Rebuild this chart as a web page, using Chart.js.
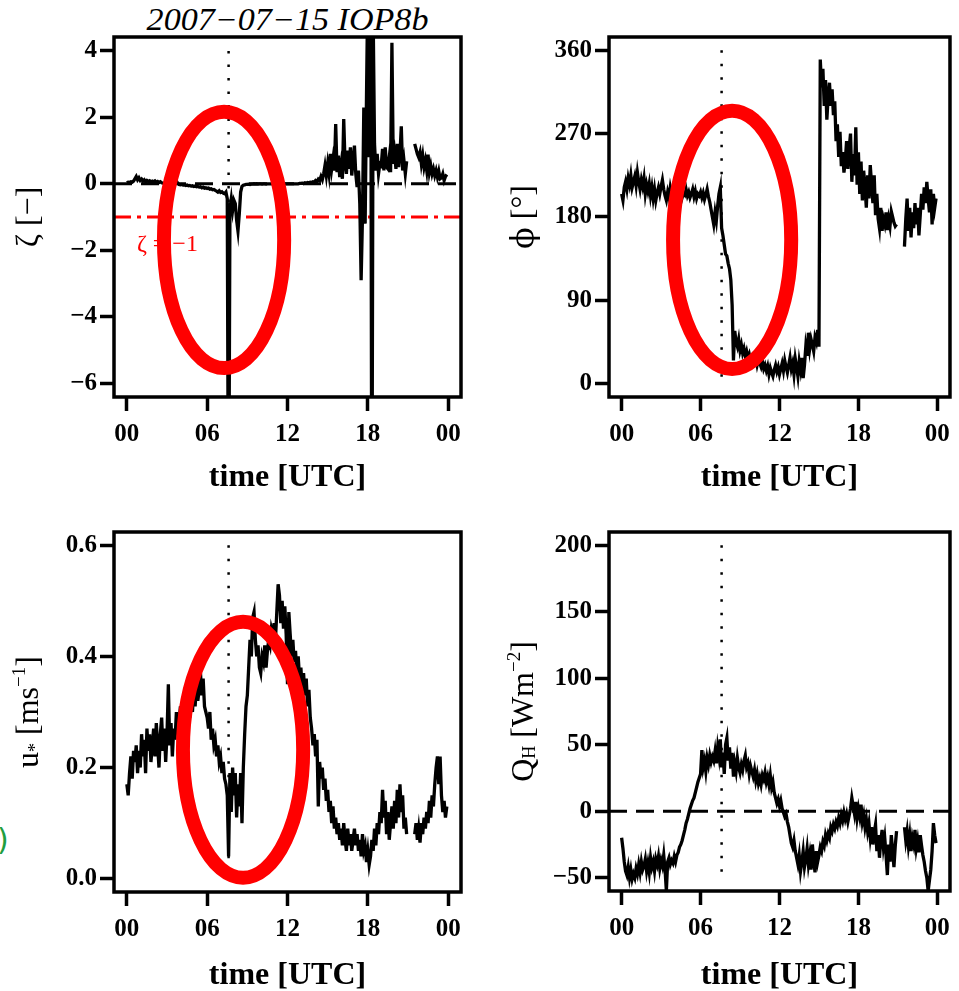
<!DOCTYPE html>
<html>
<head>
<meta charset="utf-8">
<script src="https://cdn.jsdelivr.net/npm/chart.js@4.4.1/dist/chart.umd.min.js"></script>
<style>
    body { margin: 0; background: #fff; width: 959px; height: 991px; overflow: hidden; position: relative; }
    .panel { position: absolute; }
    #title { position: absolute; left: 0; width: 575px; top: 4px; text-align: center; color: #000;
             font: italic 31px 'Liberation Serif'; line-height: 31px; transform: scaleX(1.1); transform-origin: 287px 0; }
    #mark { position: absolute; left: -3px; top: 825px; color: #1f9e40; font: 30px 'DejaVu Sans'; line-height: 30px; }
</style>
</head>
<body>
<div id="title">2007−07−15 IOP8b</div>
<div id="mark">)</div>
<div class="panel" style="left:0;top:0"><canvas id="zetaChart" width="480" height="500"></canvas></div>
<div class="panel" style="left:480px;top:0"><canvas id="phiChart" width="479" height="500"></canvas></div>
<div class="panel" style="left:0;top:500px"><canvas id="ustarChart" width="480" height="500"></canvas></div>
<div class="panel" style="left:480px;top:500px"><canvas id="qhChart" width="479" height="500"></canvas></div>

<script>
// sampling grid, 0.1 h steps over the day
const hours = [];
for (let i = 0; i < 240; i++) hours.push(i / 10);

const xMin = -0.96, xMax = 24.96;
const hourTicks = [0, 6, 12, 18, 24];
const hourLabels = ['00', '06', '12', '18', '00'];
const markerHour = 7.6;

// stability parameter zeta [-]
const zetaValues = [
    0.03, 0.05, 0.04, 0.06, 0.05, 0.08, 0.15, 0.22, 0.12, 0.18,
    0.10, 0.14, 0.08, 0.12, 0.06, 0.10, 0.07, 0.09, 0.05, 0.08,
    0.06, 0.09, 0.05, 0.07, 0.04, 0.06, 0.03, 0.02, 0.01, 0.02,
    0.00, 0.02, -0.01, 0.01, -0.02, 0.00, 0.03, 0.08, 0.02, -0.02,
    -0.03, -0.02, -0.04, -0.03, -0.05, -0.04, -0.06, -0.05, -0.07, -0.06,
    -0.08, -0.07, -0.09, -0.08, -0.10, -0.09, -0.12, -0.10, -0.13, -0.12,
    -0.14, -0.13, -0.16, -0.15, -0.18, -0.17, -0.20, -0.22, -0.25, -0.21,
    -0.26, -0.24, -0.28, -0.30, -0.25, -0.45, -12, -0.75, -0.45, -0.80,
    -0.50, -0.60, -1.10, -1.42, -0.90, -0.25, -0.08, -0.04, -0.03, -0.02,
    -0.02, -0.01, -0.02, -0.01, -0.01, 0, -0.01, 0, -0.01, 0,
    0, -0.01, 0, 0, -0.01, 0, 0, 0, 0, 0,
    0, 0, 0, 0, 0, 0, 0, 0, 0, 0,
    0, 0, 0, 0, 0, 0, 0, 0, 0, 0.01,
    0.01, 0.02, 0.01, 0.03, 0.02, 0.04, 0.03, 0.05, 0.04, 0.06,
    0.05, 0.10, 0.07, 0.14, 0.10, 0.22, 0.12, 0.30, 0.55, 0.25,
    0.60, 0.30, 0.90, 0.45, 0.75, 0.40, 1.80, 0.35, 0.85, 0.20,
    0.55, 0.15, 1.95, 0.60, 0.30, 1.00, 0.45, 1.10, 0.25, 0.70,
    1.15, 0.30, -0.10, 0.40, -0.60, -2.90, -1.00, 2.30, -1.20, 2.60,
    6.00, 0.80, 10.0, -12.0, 5.00, 1.20, 0.40, 0.90, 0.30, 0.60,
    0.55, 1.05, 0.40, 1.10, 0.50, 0.45, 0.80, 0.35, 4.25, 0.60,
    0.90, 0.45, 1.20, 0.50, 0.88, 1.73, 0.40, 0.70, 0.30, 0.68,
    null, null, null, null, null, 1.20, 1.05, 0.90, 0.80, 0.95,
    0.60, 0.85, 0.50, 0.70, 0.40, 0.88, 0.35, 0.55, 0.30, 0.45,
    0.25, 0.40, 0.20, 0.38, 0.15, 0.18, 0.30, 0.10, 0.22, 0.28
];

// wind direction phi [deg]
const phiValues = [
    205, 198, 212, 218, 210, 222, 215, 225, 212, 218,
    224, 214, 228, 218, 210, 220, 213, 222, 205, 215,
    208, 216, 203, 212, 200, 210, 198, 206, 212, 205,
    213, 220, 210, 203, 198, 207, 201, 212, 205, 210,
    202, 208, 200, 207, 203, 209, 201, 206, 204, 210,
    203, 207, 201, 205, 210, 202, 208, 200, 205, 203,
    207, 201, 206, 199, 204, 210, 202, 196, 188, 180,
    172, 185, 176, 192, 205, 212, 168, 160, 150, 140,
    138, 130, 124, 112, 85, 25, 57, 45, 40, 48,
    36, 42, 33, 38, 30, 35, 28, 32, 25, 30,
    30, 24, 28, 20, 26, 22, 18, 24, 16, 20,
    14, 19, 10, 17, 12, 8, 15, 20, 13, 18,
    10, 16, 22, 14, 25, 18, 12, 20, 28, 16,
    22, 10, 27, 18, 8, 24, 15, 28, 6, 20,
    40, 30, 55, 38, 48, 42, 35, 50, 45, 58,
    40, 350, 320, 340, 300, 328, 285, 310, 325, 300,
    318, 290, 305, 262, 280, 245, 272, 235, 250, 228,
    240, 262, 232, 255, 270, 218, 248, 225, 277, 215,
    250, 205, 240, 198, 230, 212, 190, 225, 200, 236,
    215, 195, 225, 182, 205, 178, 168, 190, 165, 178,
    172, 185, 166, 178, 170, 186, 180, 174, 170, 172,
    null, null, null, null, null, 148, 178, 200, 165, 190,
    158, 185, 168, 195, 172, 190, 160, 182, 205, 188,
    212, 195, 218, 200, 185, 210, 172, 205, 190, 200
];

// friction velocity u* [m/s]
const ustarValues = [
    0.17, 0.15, 0.19, 0.22, 0.18, 0.23, 0.21, 0.24, 0.19, 0.23,
    0.20, 0.26, 0.22, 0.25, 0.19, 0.27, 0.23, 0.26, 0.21, 0.24,
    0.27, 0.22, 0.28, 0.24, 0.20, 0.26, 0.29, 0.23, 0.27, 0.21,
    0.26, 0.35, 0.24, 0.28, 0.22, 0.27, 0.25, 0.30, 0.26, 0.28,
    0.31, 0.27, 0.30, 0.28, 0.32, 0.26, 0.31, 0.29, 0.33, 0.30,
    0.34, 0.31, 0.35, 0.32, 0.34, 0.37, 0.33, 0.36, 0.31, 0.30,
    0.29, 0.27, 0.30, 0.25, 0.27, 0.24, 0.25, 0.22, 0.24, 0.21,
    0.22, 0.19, 0.21, 0.18, 0.17, 0.15, 0.04, 0.19, 0.12, 0.20,
    0.15, 0.19, 0.11, 0.17, 0.13, 0.19, 0.10, 0.20, 0.26, 0.31,
    0.33, 0.38, 0.43, 0.40, 0.47, 0.48, 0.43, 0.40, 0.42, 0.38,
    0.37, 0.40, 0.39, 0.42, 0.38, 0.41, 0.43, 0.42, 0.45, 0.44,
    0.46, 0.43, 0.48, 0.53, 0.51, 0.46, 0.50, 0.45, 0.49, 0.44,
    0.35, 0.48, 0.44, 0.40, 0.43, 0.39, 0.41, 0.37, 0.40, 0.36,
    0.38, 0.34, 0.37, 0.33, 0.36, 0.31, 0.34, 0.29, 0.27, 0.24,
    0.26, 0.22, 0.25, 0.13, 0.21, 0.18, 0.20, 0.16, 0.18, 0.14,
    0.16, 0.12, 0.14, 0.10, 0.13, 0.09, 0.11, 0.08, 0.10, 0.07,
    0.09, 0.06, 0.10, 0.07, 0.05, 0.09, 0.06, 0.08, 0.05, 0.07,
    0.09, 0.06, 0.08, 0.05, 0.07, 0.04, 0.08, 0.05, 0.06, 0.03,
    0.05, 0.025, 0.04, 0.07, 0.05, 0.09, 0.06, 0.10, 0.08, 0.12,
    0.10, 0.16, 0.11, 0.14, 0.08, 0.12, 0.07, 0.10, 0.13, 0.09,
    0.14, 0.10, 0.16, 0.11, 0.17, 0.12, 0.15, 0.09, 0.11, 0.08,
    null, null, null, null, null, 0.08, 0.10, 0.07, 0.09, 0.065,
    0.10, 0.08, 0.11, 0.09, 0.12, 0.10, 0.14, 0.11, 0.15, 0.13,
    0.17, 0.20, 0.22, 0.17, 0.22, 0.15, 0.12, 0.14, 0.11, 0.13
];

// sensible heat flux Q_H [W/m2]
const qhValues = [
    -20, -28, -38, -45, -48, -42, -50, -44, -51, -47,
    -50, -43, -47, -40, -46, -38, -44, -41, -36, -45,
    -39, -46, -35, -42, -38, -45, -36, -40, -34, -43,
    -37, -41, -33, -44, -60, -38, -35, -40, -37, -39,
    -34, -38, -33, -31, -27, -25, -22, -18, -14, -9,
    -6, -2, 2, 5, 8, 10, 14, 18, 22, 25,
    28, 46, 33, 38, 30, 40, 35, 42, 37, 41,
    38, 45, 36, 48, 41, 54, 33, 44, 28, 50,
    55, 38, 48, 32, 44, 26, 36, 30, 40, 33,
    29, 35, 31, 38, 42, 33, 36, 28, 34, 30,
    26, 31, 23, 28, 21, 25, 20, 27, 24, 29,
    22, 26, 20, 27, 18, 22, 14, 10, 6, 9,
    4, 8, 2, -1, -4, -2, -8, -12, -18, -24,
    -27, -22, -30, -35, -40, -33, -45, -38, -30, -42,
    -36, -28, -40, -33, -44, -25, -37, -46, -30, -38,
    -33, -27, -30, -23, -26, -18, -22, -17, -20, -12,
    -15, -10, -13, -8, -11, -5, -9, -3, -7, -1,
    -6, -2, -8, -3, 2, 10, 4, -2, 7, -5,
    2, -4, 5, -8, -3, -12, -6, -15, -9, -20,
    -12, -25, -16, -10, -30, -18, -35, -22, -14, -27,
    -20, -33, -48, -25, -38, -18, -30, -42, -26, -15,
    null, null, null, null, null, -12, -22, -15, -26, -18,
    -30, -20, -25, -14, -28, -22, -31, -18, -26, -33,
    -38, -45, -50, -60, -52, -44, -30, -9, -18, -24
];

const zetaTicks = [-6, -4, -2, 0, 2, 4];
const phiTicks = [0, 90, 180, 270, 360];
const ustarTicks = [0, 0.2, 0.4, 0.6];
const qhTicks = [-50, 0, 50, 100, 150, 200];

const serif = 'Liberation Serif';

function minusSign(v) {
    return v < 0 ? '\u2212' + Math.abs(v) : String(v);
}

// box around the plot region
const frame = {
    id: 'frame',
    afterDatasetsDraw(chart) {
        const {ctx, chartArea: a} = chart;
        ctx.save();
        ctx.lineWidth = 3.5;
        ctx.strokeStyle = '#000';
        ctx.strokeRect(a.left, a.top, a.right - a.left, a.bottom - a.top);
        ctx.restore();
    }
};

// rotated y axis title with sub/superscripts
function yLabel(parts) {
    return {
        id: 'yLabel',
        afterDraw(chart) {
            const {ctx, chartArea: a} = chart;
            ctx.save();
            ctx.fillStyle = '#000';
            const items = parts.map(p => {
                ctx.font = Math.round(32 * p[1]) + 'px "' + (p[3] || serif) + '"';
                return {text: p[0], font: ctx.font, w: ctx.measureText(p[0]).width, dy: p[2]};
            });
            const total = items.reduce((s, it) => s + it.w, 0);
            ctx.translate(a.left - 76, (a.top + a.bottom) / 2);
            ctx.rotate(-Math.PI / 2);
            ctx.textBaseline = 'alphabetic';
            let x = -total / 2;
            items.forEach(it => {
                ctx.font = it.font;
                ctx.fillText(it.text, x, -it.dy);
                x += it.w;
            });
            ctx.restore();
        }
    };
}

// text placed at data coordinates
function note(list) {
    return {
        id: 'note',
        afterDatasetsDraw(chart) {
            const {ctx, scales} = chart;
            ctx.save();
            list.forEach(n => {
                ctx.font = '24px "' + serif + '"';
                ctx.fillStyle = n.color;
                ctx.textBaseline = 'alphabetic';
                ctx.textAlign = 'left';
                ctx.fillText(n.text, scales.x.getPixelForValue(n.t), scales.y.getPixelForValue(n.v));
            });
            ctx.restore();
        }
    };
}

// hand drawn highlight rings, given in data units
function rings(list) {
    return {
        id: 'rings',
        afterDraw(chart) {
            const {ctx, scales} = chart;
            ctx.save();
            list.forEach(r => {
                const cx = scales.x.getPixelForValue(r.t);
                const cy = scales.y.getPixelForValue(r.v);
                const rx = Math.abs(scales.x.getPixelForValue(r.t + r.dt) - cx);
                const ry = Math.abs(scales.y.getPixelForValue(r.v + r.dv) - cy);
                ctx.beginPath();
                ctx.ellipse(cx, cy, rx, ry, 0, 0, 2 * Math.PI);
                ctx.lineWidth = 14;
                ctx.strokeStyle = '#ff0000';
                ctx.stroke();
            });
            ctx.restore();
        }
    };
}

function guide(points, color, width, dash) {
    return {data: points, borderColor: color, borderWidth: width, borderDash: dash,
            pointRadius: 0, borderCapStyle: 'butt', tension: 0};
}

function dottedMarker(ticks) {
    return guide([{x: markerHour, y: ticks[ticks.length - 1]}, {x: markerHour, y: ticks[0]}], '#000', 2.5, [2.5, 11]);
}

function zeroLine(color, width, dash, level) {
    return guide([{x: xMin, y: level}, {x: xMax, y: level}], color, width, dash);
}

function makePanel(id, o) {
    const datasets = [{
        data: o.values, borderColor: '#000', borderWidth: 3.3, pointRadius: 0,
        tension: 0, spanGaps: false, borderJoinStyle: 'miter'
    }].concat(o.guides);

    return new Chart(document.getElementById(id), {
        type: 'line',
        data: {labels: hours, datasets: datasets},
        options: {
            responsive: false,
            animation: false,
            devicePixelRatio: 1,
            layout: {padding: {top: o.top, right: o.right, left: 0, bottom: 0}},
            plugins: {legend: {display: false}, tooltip: {enabled: false}},
            scales: {
                x: {
                    type: 'linear', min: xMin, max: xMax,
                    afterBuildTicks: s => { s.ticks = hourTicks.map(v => ({value: v})); },
                    afterFit: s => { s.height = o.bottom; },
                    ticks: {
                        callback: (v, i) => hourLabels[i],
                        font: {family: serif, size: 25, weight: 'bold'}, color: '#000',
                        padding: 9, maxRotation: 0, autoSkip: false
                    },
                    grid: {drawOnChartArea: false, drawTicks: true, tickLength: 14, tickWidth: 3.5, tickColor: '#000'},
                    border: {display: false},
                    title: {
                        display: true, text: 'time [UTC]', color: '#000',
                        font: {family: serif, size: 32, weight: 'bold', lineHeight: 1},
                        padding: {top: 0, bottom: o.titlePad}
                    }
                },
                y: {
                    type: 'linear', min: o.yMin, max: o.yMax,
                    afterBuildTicks: s => { s.ticks = o.ticks.map(v => ({value: v})); },
                    afterFit: s => { s.width = o.left; },
                    ticks: {
                        callback: o.format,
                        font: {family: serif, size: 25, weight: 'bold'}, color: '#000',
                        padding: 3, autoSkip: false
                    },
                    grid: {drawOnChartArea: false, drawTicks: true, tickLength: 14, tickWidth: 3.5, tickColor: '#000'},
                    border: {display: false}
                }
            }
        },
        plugins: [frame, note(o.notes || []), yLabel(o.label), rings(o.rings || [])]
    });
}

makePanel('zetaChart', {
    values: zetaValues, ticks: zetaTicks, yMin: -6.42, yMax: 4.42, format: minusSign,
    left: 114, right: 19, top: 37, bottom: 103, titlePad: 6.5,
    label: [['\u03B6 [\u2212]', 1, 0]],
    guides: [zeroLine('#000', 3, [18, 9], 0), zeroLine('#ff0000', 3, [17, 6, 4, 6], -1), dottedMarker(zetaTicks)],
    notes: [{text: '\u03B6 = \u22121', t: 0.75, v: -2.02, color: '#ff0000'}],
    rings: [{t: 7.26, v: -1.69, dt: 4.49, dv: 3.86}]
});

makePanel('phiChart', {
    values: phiValues, ticks: phiTicks, yMin: -14.4, yMax: 374.4, format: v => String(v),
    left: 129, right: 4, top: 37, bottom: 103, titlePad: 6.5,
    label: [['\u03D5', 1, 0, 'DejaVu Serif'], [' [\u00B0]', 1, 0]],
    guides: [dottedMarker(phiTicks)],
    rings: [{t: 8.4, v: 155.3, dt: 4.49, dv: 139.5}]
});

makePanel('ustarChart', {
    values: ustarValues, ticks: ustarTicks, yMin: -0.024, yMax: 0.624, format: v => v.toFixed(1),
    left: 114, right: 19, top: 32, bottom: 108, titlePad: 8,
    label: [['u', 1, 0], ['*', 0.55, -3], [' [ms', 1, 0], ['\u22121', 0.6, 13], [']', 1, 0]],
    guides: [dottedMarker(ustarTicks)],
    rings: [{t: 8.68, v: 0.232, dt: 4.49, dv: 0.2303}]
});

makePanel('qhChart', {
    values: qhValues, ticks: qhTicks, yMin: -60, yMax: 210, format: minusSign,
    left: 129, right: 4, top: 32, bottom: 109, titlePad: 8,
    label: [['Q', 1, 0], ['H', 0.55, -2], [' [Wm', 1, 0], ['\u22122', 0.6, 13], [']', 1, 0]],
    guides: [zeroLine('#000', 3, [18, 9], 0), dottedMarker(qhTicks)]
});
</script>
</body>
</html>
